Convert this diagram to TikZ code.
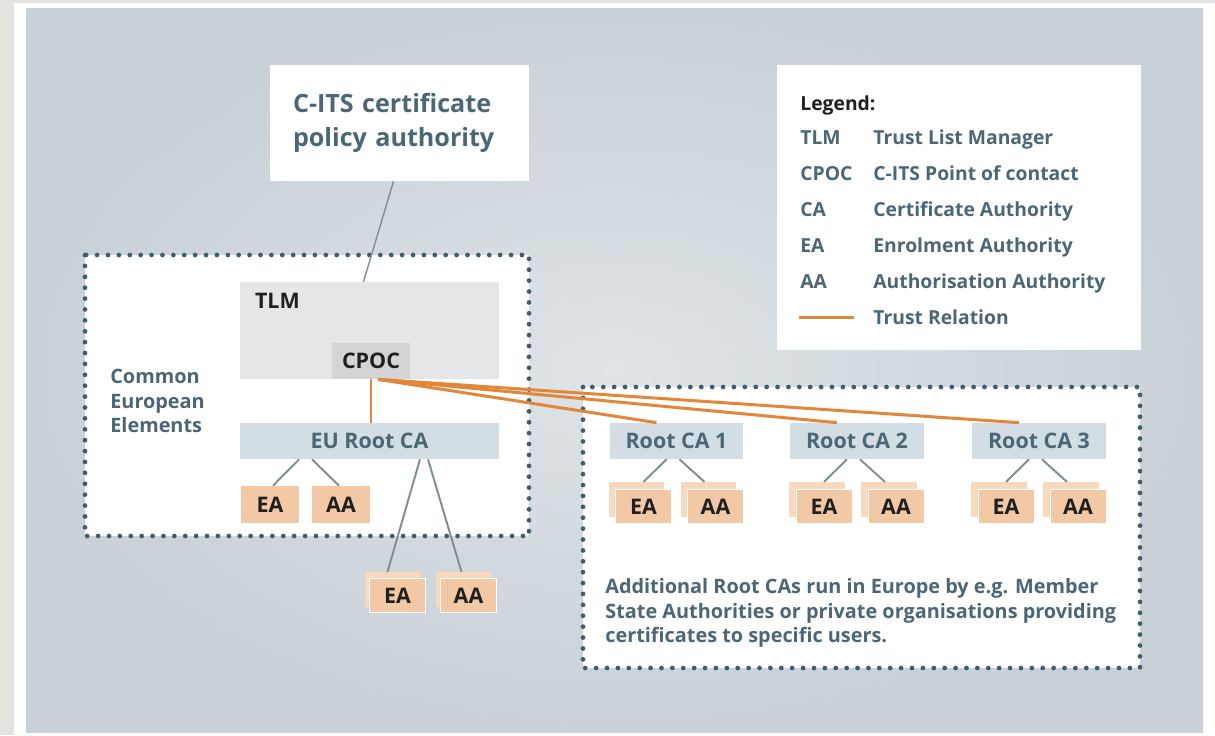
\documentclass[tikz,border=0pt]{standalone}
\usepackage{fontspec}
\setmainfont{Open Sans}
\usetikzlibrary{calc}

\definecolor{beige}{HTML}{E4E3DD}
\definecolor{panelin}{HTML}{DEE4E7}
\definecolor{panelout}{HTML}{C8D1D7}
\definecolor{slate}{HTML}{4B6775}
\definecolor{dotgray}{HTML}{3F5E6A}
\definecolor{tlmgray}{HTML}{E5E6E8}
\definecolor{cpocgray}{HTML}{D3D4D6}
\definecolor{rootblue}{HTML}{D2DEE4}
\definecolor{peach}{HTML}{F3C8A5}
\definecolor{peachlt}{HTML}{F7D9C0}
\definecolor{trust}{HTML}{E2873A}
\definecolor{wire}{HTML}{7F8D95}
\definecolor{ink}{HTML}{1F1F1F}

\tikzset{
  dotbox/.style={draw=dotgray, line width=2.7pt, line cap=round, dash pattern=on 0pt off 6.2pt},
  trustline/.style={draw=trust, line width=1.7pt},
  wireline/.style={draw=wire, line width=1.1pt},
  lbl/.style={inner sep=0pt, text=ink, font=\fontsize{12.2}{14}\selectfont\bfseries},
  rootbox/.style={fill=rootblue, minimum width=2.68cm, minimum height=0.72cm, inner sep=0pt,
    text=slate, font=\fontsize{12.2}{14}\selectfont\bfseries},
  authbox/.style={lbl, fill=peach, minimum width=1.18cm, minimum height=0.74cm},
  stackfront/.style={lbl, fill=peach, draw=white, line width=0.5pt, minimum width=1.12cm, minimum height=0.69cm},
  stackback/.style={fill=peachlt, minimum width=1.12cm, minimum height=0.69cm, inner sep=0pt},
  legtext/.style={anchor=base west, inner sep=0pt, text=slate, font=\fontsize{11}{13}\selectfont\bfseries},
  note/.style={anchor=north west, inner sep=0pt, align=left, text=slate, font=\fontsize{11.3}{14}\selectfont\bfseries}
}

\begin{document}
\begin{tikzpicture}[x=0.02cm, y=-0.02cm]
    \useasboundingbox (0,0) rectangle (1215,735);

    % Background
    \fill[beige] (0,0) rectangle (1215,735);
    \fill[white] (14,3) rectangle (1215,735);
    \shade[inner color=panelin, outer color=panelout] (26,8) rectangle (1203,732);

    % Dotted groups
    \fill[white] (85,255) rectangle (529,536);
    \draw[dotbox] (85,255) rectangle (529,536);
    \fill[white] (583,387) rectangle (1140,668);
    \draw[dotbox] (583,387) rectangle (1140,668);

    % Policy authority
    \node[fill=white, minimum width=5.18cm, minimum height=2.32cm, inner sep=0pt,
      text width=4.26cm, align=left, text=slate,
      font=\fontsize{14.3}{19.3}\selectfont\bfseries] (pol) at (399.5,123)
      {C-ITS certificate\\policy authority};

    % Legend
    \node[fill=white, minimum width=7.28cm, minimum height=5.7cm] (leg) at (959,207.5) {};
    \node[legtext, text=ink] (leghead) at (800,110) {Legend:};
    \foreach \ab/\txt [count=\k] in {TLM/Trust List Manager, CPOC/C-ITS Point of contact,
        CA/Certificate Authority, EA/Enrolment Authority, AA/Authorisation Authority} {
      \node[legtext] (abb\k) at (800,144+36*\k-36) {\ab};
      \node[legtext] (desc\k) at (873,144+36*\k-36) {\txt};
    }
    \coordinate (trA) at (799,317);
    \coordinate (trB) at (854,317);
    \draw[trustline] (trA) -- (trB);
    \node[legtext] (trtxt) at (873,324) {Trust Relation};

    % Common European elements
    \node[fill=tlmgray, minimum width=5.18cm, minimum height=1.94cm,
      label={[lbl, anchor=north west, xshift=0.3cm, yshift=-0.22cm]north west:TLM}] (tlm) at (369.5,330.5) {};
    \node[lbl, fill=cpocgray, minimum width=1.56cm, minimum height=0.72cm] (cpoc) at (371,361) {CPOC};
    \node[rootbox, minimum width=5.18cm] (eu) at (369.5,441) {EU Root CA};
    \node[authbox] (euea) at (270,504.5) {EA};
    \node[authbox] (euaa) at (341,504.5) {AA};
    \node[stackback] (loweab) at (392.5,589.5) {};
    \node[stackfront] (lowea) at (397.5,595.5) {EA};
    \node[stackback] (lowaab) at (463.5,589.5) {};
    \node[stackfront] (lowaa) at (468.5,595.5) {AA};
    \node[note] (cee) at (110,369) {Common\\European\\Elements};

    \draw[wireline, line width=0.8pt] ($(pol.south)+(-6,0)$) -- ($(tlm.north)+(-6,0)$);
    \draw[wireline] ($(eu.south)+(-70.5,0)$) -- ($(euea.north)+(3,0)$);
    \draw[wireline] ($(eu.south)+(-57.5,0)$) -- ($(euaa.north)+(-2,0)$);
    \draw[wireline] ($(eu.south)+(50.5,0)$) -- ($(loweab.north)+(-5,0)$);
    \draw[wireline] ($(eu.south)+(58.5,0)$) -- ($(lowaab.north)+(-2,0)$);

    % Additional root CAs
    \foreach \i/\x in {1/676.5, 2/857, 3/1039} {
      \node[rootbox] (rca\i) at (\x,441) {Root CA \i};
      \node[stackback] (eab\i) at (\x-40,499.5) {};
      \node[stackfront] (ea\i) at (\x-33,506.5) {EA};
      \node[stackback] (aab\i) at (\x+32,499.5) {};
      \node[stackfront] (aa\i) at (\x+39,506.5) {AA};
      \draw[wireline] ($(rca\i.south)+(-10,0)$) -- ($(eab\i.north)+(7,0)$);
      \draw[wireline] ($(rca\i.south)+(3,0)$) -- ($(aab\i.north)+(-4,0)$);
    }
    \node[note] (addtxt) at (605,578)
      {Additional Root CAs run in Europe by e.g. Member\\State Authorities or private organisations providing\\certificates to specific users.};

    % Trust relations
    \draw[trustline] (cpoc.south) -- (cpoc.south |- eu.north);
    \foreach \i in {1,2,3}
      \draw[trustline] ($(cpoc.south)+(7,0)$) -- ($(rca\i.north)+(-20,0)$);
\end{tikzpicture}
\end{document}
